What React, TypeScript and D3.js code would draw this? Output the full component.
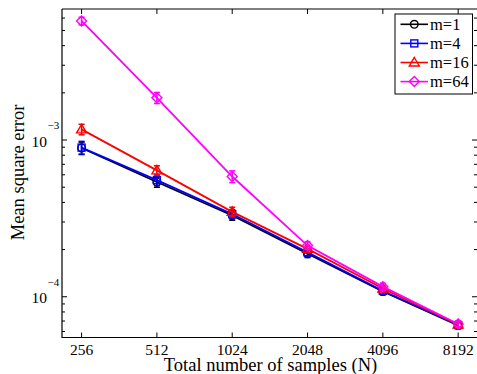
import React from "react";
import * as d3 from "d3";

const samples = [256, 512, 1024, 2048, 4096, 8192];
const seriesNames = ["m=1", "m=4", "m=16", "m=64"];
const colors = ["#000000", "#0000ff", "#ff0000", "#ff00ff"];
const markers = ["circle", "square", "triangle", "diamond"];
const mse1 = [8.9e-4, 5.4e-4, 3.3e-4, 1.88e-4, 1.08e-4, 6.55e-5];
const mse4 = [8.95e-4, 5.55e-4, 3.37e-4, 1.92e-4, 1.09e-4, 6.6e-5];
const mse16 = [1.17e-3, 6.4e-4, 3.48e-4, 2.02e-4, 1.13e-4, 6.65e-5];
const mse64 = [5.75e-3, 1.86e-3, 5.85e-4, 2.12e-4, 1.16e-4, 6.7e-5];
const err1 = [8e-5, 4e-5, 2.2e-5, 1.0e-5, 5e-6, 3e-6];
const err4 = [8.5e-5, 4.2e-5, 2.2e-5, 1.0e-5, 5e-6, 3e-6];
const err16 = [9e-5, 4.5e-5, 2.4e-5, 1.1e-5, 5e-6, 3e-6];
const err64 = [3.2e-4, 1.5e-4, 5e-5, 1.2e-5, 6e-6, 3e-6];
const values = [mse1, mse4, mse16, mse64];
const errors = [err1, err4, err16, err64];
const yMajor = [1e-4, 1e-3];

const W = 477, H = 374;
const L = 62, R = 477, T = 9, B = 337.5;

const x = d3.scaleLog().base(2).domain([Math.pow(2, 7.74), Math.pow(2, 13.25)]).range([L, R]);
const y = d3.scaleLog().domain([Math.pow(10, -4.26), Math.pow(10, -2.164)]).range([B, T]);

const font = "Liberation Serif";
const ts = { fontFamily: font };

function Marker({ type, cx, cy, color }: { type: string; cx: number; cy: number; color: string }) {
  const sw = 1.4;
  if (type === "circle") return <circle cx={cx} cy={cy} r={3.8} fill="none" stroke={color} strokeWidth={sw} />;
  if (type === "square") return <rect x={cx - 3.5} y={cy - 3.5} width={7} height={7} fill="none" stroke={color} strokeWidth={sw} />;
  if (type === "triangle")
    return <path d={`M${cx},${cy - 5} L${cx + 5},${cy + 3.5} L${cx - 5},${cy + 3.5} Z`} fill="none" stroke={color} strokeWidth={sw} />;
  return <path d={`M${cx},${cy - 5} L${cx + 5},${cy} L${cx},${cy + 5} L${cx - 5},${cy} Z`} fill="none" stroke={color} strokeWidth={sw} />;
}

export default function App() {
  const minor: number[] = [];
  for (let e = -5; e <= -3; e++) for (let k = 2; k <= 9; k++) {
    const v = k * Math.pow(10, e);
    if (v > y.domain()[0] && v < y.domain()[1]) minor.push(v);
  }
  const line = d3.line<number>().x((_, i) => x(samples[i])).y((d) => y(d));
  return (
    <svg width={W} height={H} style={{ position: "absolute", left: 0, top: 0 }}>
      <rect width={W} height={H} fill="#fff" />
      <path d={`M${L},${T} H${R} M${L},${T} V${B} H${R}`} stroke="#000" strokeWidth={1.2} fill="none" />
      {samples.map((s) => (
        <g key={s}>
          <line x1={x(s)} x2={x(s)} y1={B} y2={B - 5} stroke="#000" />
          <line x1={x(s)} x2={x(s)} y1={T} y2={T + 5} stroke="#000" />
          <text x={x(s)} y={355} textAnchor="middle" fontSize={15.5} style={ts}>{s}</text>
        </g>
      ))}
      {yMajor.map((v) => (
        <g key={v}>
          <line x1={L} x2={L + 5} y1={y(v)} y2={y(v)} stroke="#000" />
          <line x1={R} x2={R - 5} y1={y(v)} y2={y(v)} stroke="#000" />
          <text x={47} y={y(v) + 6.5} textAnchor="end" fontSize={15.5} style={ts}>10</text>
          <text x={47.5} y={y(v) - 11} fontSize={11} style={ts}>−{Math.round(-Math.log10(v))}</text>
        </g>
      ))}
      {minor.map((v) => (
        <g key={v}>
          <line x1={L} x2={L + 3} y1={y(v)} y2={y(v)} stroke="#000" />
          <line x1={R} x2={R - 3} y1={y(v)} y2={y(v)} stroke="#000" />
        </g>
      ))}
      {values.map((vals, si) => (
        <g key={si}>
          <path d={line(vals) || ""} fill="none" stroke={colors[si]} strokeWidth={1.8} />
          {vals.map((v, i) => {
            const cx = x(samples[i]);
            const lo = y(v - errors[si][i]);
            const hi = y(v + errors[si][i]);
            return (
              <g key={i}>
                <line x1={cx} x2={cx} y1={lo} y2={hi} stroke={colors[si]} strokeWidth={1.6} />
                <line x1={cx - 3} x2={cx + 3} y1={lo} y2={lo} stroke={colors[si]} strokeWidth={1.6} />
                <line x1={cx - 3} x2={cx + 3} y1={hi} y2={hi} stroke={colors[si]} strokeWidth={1.6} />
                <Marker type={markers[si]} cx={cx} cy={y(v)} color={colors[si]} />
              </g>
            );
          })}
        </g>
      ))}
      <rect x={395} y={14} width={77.5} height={80} fill="#fff" stroke="#000" strokeWidth={1} />
      {seriesNames.map((n, i) => {
        const ly = 24.3 + i * 19.1;
        return (
          <g key={n}>
            <line x1={400.5} x2={428} y1={ly} y2={ly} stroke={colors[i]} strokeWidth={1.6} />
            <Marker type={markers[i]} cx={414.3} cy={ly} color={colors[i]} />
            <text x={430} y={ly + 5.5} fontSize={16.5} style={ts}>{n}</text>
          </g>
        );
      })}
      <text x={270.5} y={371} textAnchor="middle" fontSize={18.5} style={ts}>Total number of samples (N)</text>
      <text transform="translate(23.5,172.5) rotate(-90)" textAnchor="middle" fontSize={18.5} style={ts}>Mean square error</text>
    </svg>
  );
}
